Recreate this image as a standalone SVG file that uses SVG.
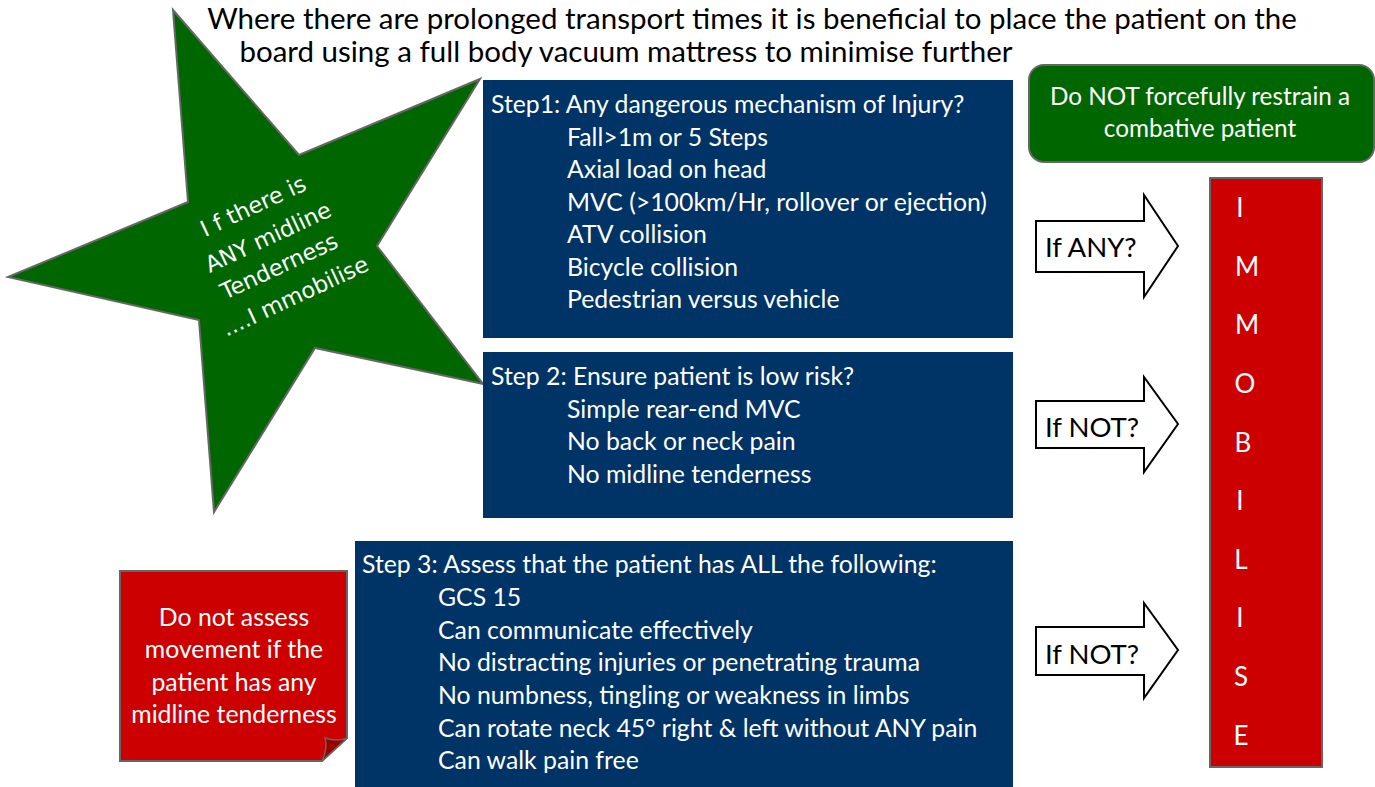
<svg xmlns="http://www.w3.org/2000/svg" width="1375" height="787" viewBox="0 0 1375 787">
  <style>
    text { font-family: Lato, "Liberation Sans", sans-serif; }
    .title { font-size: 29.5px; fill: #000; text-anchor: middle; }
    .step { fill: #003366; }
    .steptxt { font-size: 24.8px; fill: #ffffff; }
    .white-c { fill: #ffffff; text-anchor: middle; }
    .arrow { fill: #ffffff; stroke: #000000; stroke-width: 2; stroke-linejoin: miter; }
    .arrowtxt { font-size: 27.5px; fill: #000000; }
    .star { fill: #006600; stroke: #666666; stroke-width: 2; }
    .startxt { font-family: "DejaVu Sans", sans-serif; font-size: 22.5px; fill: #ffffff; text-anchor: middle; }
    .letter { font-size: 26px; fill: #ffffff; text-anchor: middle; }
  </style>

  <!-- heading -->
  <g id="heading">
    <text class="title" x="752" y="29">Where there are prolonged transport times it is beneficial to place the patient on the</text>
    <text class="title" x="626" y="62">board using a full body vacuum mattress to minimise further</text>
  </g>

  <!-- green star warning -->
  <g id="star">
    <polygon class="star" points="173,10 299,155 480,79 377,246 483,384 315,348 214,512 199,320 8,277 188,202"/>
    <text class="startxt" transform="translate(253 206) rotate(-25)" y="8">I f there is</text>
    <text class="startxt" transform="translate(268 237) rotate(-25)" y="8">ANY midline</text>
    <text class="startxt" transform="translate(279 266) rotate(-25)" y="8">Tenderness</text>
    <text class="startxt" transform="translate(295 296) rotate(-25)" y="8">....I mmobilise</text>
  </g>

  <!-- step 1 -->
  <g id="step1">
    <rect class="step" x="483" y="80" width="530" height="258"/>
    <text class="steptxt" x="491" y="113">Step1: Any dangerous mechanism of Injury?</text>
    <text class="steptxt" x="567" y="146">Fall&gt;1m or 5 Steps</text>
    <text class="steptxt" x="567" y="178">Axial load on head</text>
    <text class="steptxt" x="567" y="211">MVC (&gt;100km/Hr, rollover or ejection)</text>
    <text class="steptxt" x="567" y="243">ATV collision</text>
    <text class="steptxt" x="567" y="276">Bicycle collision</text>
    <text class="steptxt" x="567" y="308">Pedestrian versus vehicle</text>
  </g>

  <!-- step 2 -->
  <g id="step2">
    <rect class="step" x="483" y="352" width="530" height="166"/>
    <text class="steptxt" x="491" y="385">Step 2: Ensure patient is low risk?</text>
    <text class="steptxt" x="567" y="418">Simple rear-end MVC</text>
    <text class="steptxt" x="567" y="450">No back or neck pain</text>
    <text class="steptxt" x="567" y="483">No midline tenderness</text>
  </g>

  <!-- step 3 -->
  <g id="step3">
    <rect class="step" x="355" y="541" width="658" height="246"/>
    <text class="steptxt" x="362" y="573">Step 3: Assess that the patient has ALL the following:</text>
    <text class="steptxt" x="438" y="606">GCS 15</text>
    <text class="steptxt" x="438" y="639">Can communicate effectively</text>
    <text class="steptxt" x="438" y="671">No distracting injuries or penetrating trauma</text>
    <text class="steptxt" x="438" y="704">No numbness, tingling or weakness in limbs</text>
    <text class="steptxt" x="438" y="737">Can rotate neck 45° right &amp; left without ANY pain</text>
    <text class="steptxt" x="438" y="769">Can walk pain free</text>
  </g>

  <!-- green advice box -->
  <g id="restrain">
    <rect x="1029" y="65" width="345" height="97" rx="15" ry="15" fill="#006600" stroke="#666666" stroke-width="2"/>
    <text class="white-c" x="1200" y="105" font-size="24.3">Do NOT forcefully restrain a</text>
    <text class="white-c" x="1200" y="137" font-size="24.3">combative patient</text>
  </g>

  <!-- red note with folded corner -->
  <g id="note">
    <path d="M120,571 H347 V738 L322,761 H120 Z" fill="#cc0000" stroke="#666666" stroke-width="2"/>
    <path d="M347,738 L322,761 Q328,748 325,738 Q338,742 347,738 Z" fill="#990000" stroke="#666666" stroke-width="1.5"/>
    <text class="white-c" x="234" y="626" font-size="24.8">Do not assess</text>
    <text class="white-c" x="234" y="658" font-size="24.8">movement if the</text>
    <text class="white-c" x="234" y="691" font-size="24.8">patient has any</text>
    <text class="white-c" x="234" y="723" font-size="24.8">midline tenderness</text>
  </g>

  <!-- immobilise column -->
  <g id="immobilise">
    <rect x="1210" y="178" width="112" height="589" fill="#cc0000" stroke="#666666" stroke-width="2"/>
    <text class="letter" x="1240" y="217">I</text>
    <text class="letter" x="1247" y="276">M</text>
    <text class="letter" x="1247" y="334">M</text>
    <text class="letter" x="1245" y="393">O</text>
    <text class="letter" x="1243" y="452">B</text>
    <text class="letter" x="1240" y="510">I</text>
    <text class="letter" x="1241" y="569">L</text>
    <text class="letter" x="1240" y="627">I</text>
    <text class="letter" x="1241" y="686">S</text>
    <text class="letter" x="1241" y="745">E</text>
  </g>

  <!-- decision arrows -->
  <g id="connectors">
    <g id="arrow-any">
      <polygon class="arrow" points="1036,221 1144,221 1144,195 1178,246 1144,297 1144,272 1036,272"/>
      <text class="arrowtxt" x="1045" y="257">If ANY?</text>
    </g>
    <g id="arrow-not-1">
      <polygon class="arrow" points="1036,401 1144,401 1144,377 1178,424 1144,472 1144,448 1036,448"/>
      <text class="arrowtxt" x="1045" y="437">If NOT?</text>
    </g>
    <g id="arrow-not-2">
      <polygon class="arrow" points="1036,627 1144,627 1144,603 1178,650 1144,698 1144,675 1036,675"/>
      <text class="arrowtxt" x="1045" y="664">If NOT?</text>
    </g>
  </g>
</svg>
